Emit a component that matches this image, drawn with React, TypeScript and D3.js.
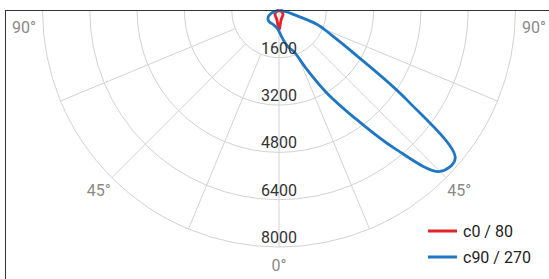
import React, { useEffect, useRef } from 'react';
import * as d3 from 'd3';

// polar grid values
const rings = [1600, 3200, 4800, 6400, 8000];
const spokeAngles = [-67.5, -45, -22.5, 22.5, 45, 67.5];
const angleLabels = [-90, -45, 0, 45, 90];

// gamma angles (deg), negative = left half of the plane
const redAngles = [-90, -75, -60, -45, -30, -20, -10, -5, 0, 5, 10, 20, 30, 45, 60, 75, 90];
const redValues = [5, 60, 130, 190, 230, 270, 360, 480, 660, 480, 360, 270, 230, 190, 130, 60, 5];

const blueAngles = [-90, -85, -80, -75, -70, -65, -60, -55, -50, -45, -40, -35, -30, -25, -20, -15, -10, -5,
    0, 5, 10, 15, 20, 25, 30, 35, 40, 45, 50, 55, 60, 65, 70, 75, 80, 85, 90];
const blueValues = [20, 50, 100, 180, 270, 350, 415, 455, 480, 500, 505, 505, 505, 510, 520, 540, 570, 620,
    700, 860, 1080, 1300, 1480, 2150, 3200, 4400, 6100, 7700, 7780, 5300, 3000, 1950, 1360, 500, 250, 120, 50];

const seriesNames = ['c0 / 80', 'c90 / 270'];
const seriesColors = ['#e4222a', '#1f76c2'];

const width = 549;
const height = 279;

function PolarChart() {
    const ref = useRef<SVGSVGElement>(null);

    useEffect(() => {
        const svg = d3.select(ref.current);
        svg.selectAll('*').remove();

        const cx = 279;
        const cy = 10.5;
        const r = d3.scaleLinear().domain([0, 8000]).range([0, 236.5]);
        const rad = (a: number) => a * Math.PI / 180;

        const grid = svg.append('g')
            .attr('fill', 'none')
            .attr('stroke', '#d2d2d2')
            .attr('stroke-width', 1);

        rings.forEach((v) => {
            const p = d3.path();
            p.arc(cx, cy, r(v), 0, Math.PI);
            grid.append('path').attr('d', p.toString());
        });

        // 0 deg spoke from the centre, others from the first ring
        grid.append('line')
            .attr('x1', cx).attr('y1', cy)
            .attr('x2', cx).attr('y2', cy + r(8000));
        spokeAngles.forEach((a) => {
            grid.append('line')
                .attr('x1', cx + r(rings[0]) * Math.sin(rad(a)))
                .attr('y1', cy + r(rings[0]) * Math.cos(rad(a)))
                .attr('x2', cx + r(8000) * Math.sin(rad(a)))
                .attr('y2', cy + r(8000) * Math.cos(rad(a)));
        });

        const line = d3.lineRadial<[number, number]>()
            .angle((d) => Math.PI - rad(d[0]))
            .radius((d) => r(d[1]))
            .curve(d3.curveCatmullRom.alpha(0.5));

        const series = [
            redAngles.map((a, i) => [a, redValues[i]] as [number, number]),
            blueAngles.map((a, i) => [a, blueValues[i]] as [number, number]),
        ];

        series.forEach((s, i) => {
            svg.append('path')
                .attr('transform', `translate(${cx}, ${cy})`)
                .attr('d', line(s))
                .attr('fill', 'none')
                .attr('stroke', seriesColors[i])
                .attr('stroke-width', 2.8)
                .attr('stroke-linejoin', 'round');
        });

        // ring value labels
        svg.append('g')
            .selectAll('text')
            .data(rings)
            .join('text')
                .attr('x', cx)
                .attr('y', (d) => cy + r(d) - 4)
                .attr('text-anchor', 'middle')
                .attr('font-size', '16px')
                .attr('fill', '#333')
                .text((d) => d);

        // angle labels
        const labelR = 255;
        svg.append('g')
            .selectAll('text')
            .data(angleLabels)
            .join('text')
                .attr('x', (d) => cx + labelR * Math.sin(rad(d)))
                .attr('y', (d) => Math.max(cy + labelR * Math.cos(rad(d)), cy + 17))
                .attr('dy', '0.35em')
                .attr('text-anchor', 'middle')
                .attr('font-size', '16px')
                .attr('fill', '#8a8a8a')
                .text((d) => Math.abs(d) + '°');

        // legend
        const legend = svg.append('g')
            .selectAll('g')
            .data(seriesNames)
            .join('g')
                .attr('transform', (d, i) => `translate(428, ${231 + i * 26})`);
        legend.append('line')
            .attr('x1', 0).attr('x2', 29)
            .attr('stroke', (d, i) => seriesColors[i])
            .attr('stroke-width', 3);
        legend.append('text')
            .attr('x', 35)
            .attr('dy', '0.35em')
            .attr('font-size', '16px')
            .attr('fill', '#222')
            .text((d) => d);

        // frame (right and bottom edges fall outside the view)
        svg.append('rect')
            .attr('x', 5.5).attr('y', 10.5)
            .attr('width', 600).attr('height', 400)
            .attr('fill', 'none')
            .attr('stroke', '#333')
            .attr('stroke-width', 1);
    }, []);

    return (
        <svg ref={ref} width={width} height={height}
            style={{ position: 'absolute', left: 0, top: 0, fontFamily: 'Roboto, sans-serif', background: '#fff' }}></svg>
    );
}

export default function App() {
    return <PolarChart />;
}
